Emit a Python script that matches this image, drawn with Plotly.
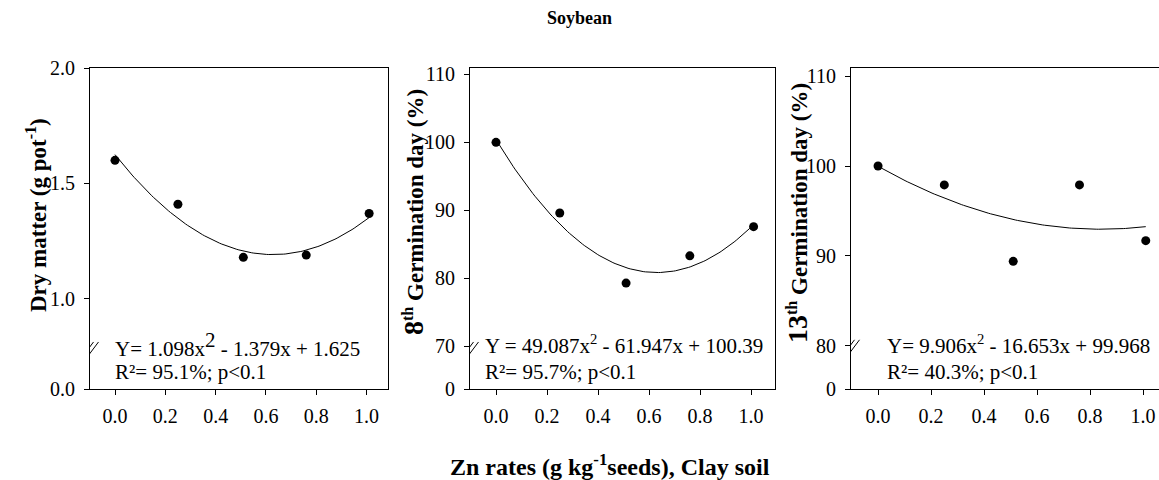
import numpy as np
import plotly.graph_objects as go

# ---------------- data ----------------
zn_rates = [0.0, 0.25, 0.51, 0.76, 1.01]
dry_matter = [1.60, 1.41, 1.18, 1.19, 1.37]
germ_8th = [100.0, 89.6, 79.3, 83.3, 87.6]
germ_13th = [100.0, 97.9, 89.4, 97.9, 91.7]

fit_dry = [1.098, -1.379, 1.625]
fit_8th = [49.087, -61.947, 100.39]
fit_13th = [9.906, -16.653, 99.968]

x_tickvals = [0.0, 0.2, 0.4, 0.6, 0.8, 1.0]
x_ticktext = ["0.0", "0.2", "0.4", "0.6", "0.8", "1.0"]

eq_dry = ["Y= 1.098x<sup><span style='font-size:21px'>2</span></sup> - 1.379x + 1.625", "R²= 95.1%; p<0.1"]
eq_8th = ["Y = 49.087x<sup>2</sup> - 61.947x + 100.39", "R²= 95.7%; p<0.1"]
eq_13th = ["Y= 9.906x<sup>2</sup> - 16.653x + 99.968", "R²= 40.3%; p<0.1"]

# broken axis: bottom of the axis shows the "0" label
y1_ticktext = ["0.0", "1.0", "1.5", "2.0"]
y2_ticktext = ["0", "70", "80", "90", "100", "110"]
y3_ticktext = ["0", "80", "90", "100", "110"]

# ---------------- layout helpers ----------------
W, H = 1159, 480
FONT = "Liberation Serif, Times New Roman, serif"

def px_x(p):
    return p / W

def px_y(p):
    return 1 - p / H

panels = [
    dict(y=dry_matter, fit=fit_dry, eq=eq_dry,
         xdom=[90, 388], xr=[-0.0994, 1.085],
         yr=[0.61, 2.0], ytv=[0.61, 1.0, 1.5, 2.0], ytt=y1_ticktext,
         brk=0.779, xmirror=True, ymirror=True, eqx=113),
    dict(y=germ_8th, fit=fit_8th, eq=eq_8th,
         xdom=[470, 775], xr=[-0.102, 1.094],
         yr=[63.72, 110.93], ytv=[63.72, 70, 80, 90, 100, 110], ytt=y2_ticktext,
         brk=69.46, xmirror=True, ymirror=True, eqx=483),
    dict(y=germ_13th, fit=fit_13th, eq=eq_13th,
         xdom=[851, 1159], xr=[-0.102, 1.06],
         yr=[75.2, 110.9], ytv=[75.2, 80, 90, 100, 110], ytt=y3_ticktext,
         brk=79.78, xmirror=True, ymirror=False, eqx=885),
]

fig = go.Figure()
shapes = []
annotations = []

for i, p in enumerate(panels, start=1):
    xa = "x" if i == 1 else f"x{i}"
    ya = "y" if i == 1 else f"y{i}"
    a, b, c = p["fit"]
    xs = np.linspace(min(zn_rates), max(zn_rates), 120)
    ys = a * xs ** 2 + b * xs + c
    fig.add_trace(go.Scatter(x=xs, y=ys, mode="lines",
                             line=dict(color="black", width=1),
                             xaxis=xa, yaxis=ya, showlegend=False, hoverinfo="skip"))
    fig.add_trace(go.Scatter(x=zn_rates, y=p["y"], mode="markers",
                             marker=dict(color="black", size=9),
                             xaxis=xa, yaxis=ya, showlegend=False))

    axis_common = dict(showline=True, linecolor="black", linewidth=1,
                       ticks="outside", ticklen=5, tickwidth=1, tickcolor="black",
                       showgrid=False, zeroline=False, automargin=False,
                       tickfont=dict(family=FONT, size=20, color="black"))
    xkey = "xaxis" if i == 1 else f"xaxis{i}"
    ykey = "yaxis" if i == 1 else f"yaxis{i}"
    fig.update_layout({
        xkey: dict(domain=[px_x(p["xdom"][0]), px_x(p["xdom"][1])],
                   range=p["xr"], anchor=ya,
                   tickvals=x_tickvals, ticktext=x_ticktext,
                   mirror=p["xmirror"], ticklabelstandoff=4, **axis_common),
        ykey: dict(domain=[px_y(389), px_y(68)], range=p["yr"], anchor=xa,
                   tickvals=p["ytv"], ticktext=p["ytt"],
                   mirror=p["ymirror"], ticklabelstandoff=5, **axis_common),
    })

    # break marks "//"
    for dx in (-2.5, 2.5):
        shapes.append(dict(type="line", xref=xa, yref=ya,
                           xsizemode="pixel", ysizemode="pixel",
                           xanchor=p["xr"][0], yanchor=p["brk"],
                           x0=-6 + dx, x1=6 + dx, y0=-8, y1=8,
                           line=dict(color="black", width=1)))

    # equation text
    annotations.append(dict(xref="paper", yref="paper", x=px_x(p["eqx"]), y=px_y(344),
                            xanchor="left", yanchor="middle", showarrow=False,
                            text=p["eq"][0], font=dict(family=FONT, size=21, color="black")))
    annotations.append(dict(xref="paper", yref="paper", x=px_x(p["eqx"]), y=px_y(372),
                            xanchor="left", yanchor="middle", showarrow=False,
                            text=p["eq"][1], font=dict(family=FONT, size=21, color="black")))

# y-axis titles
ytitles = [
    ("<b>Dry matter (g pot<sup>-1</sup>)</b>", 36, 215),
    ("<b><span style='font-size:28px'>8</span><sup>th</sup> Germination day (%)</b>", 413, 212),
    ("<b><span style='font-size:28px'>13</span><sup>th</sup> Germination day (%)</b>", 797, 213),
]
for txt, xp, yp in ytitles:
    annotations.append(dict(xref="paper", yref="paper", x=px_x(xp), y=px_y(yp),
                            xanchor="center", yanchor="middle", showarrow=False,
                            textangle=-90, text=txt,
                            font=dict(family=FONT, size=23, color="black")))

# title and x title
annotations.append(dict(xref="paper", yref="paper", x=px_x(579), y=px_y(18),
                        xanchor="center", yanchor="middle", showarrow=False,
                        text="<b>Soybean</b>", font=dict(family=FONT, size=18, color="black")))
annotations.append(dict(xref="paper", yref="paper", x=px_x(610), y=px_y(465),
                        xanchor="center", yanchor="middle", showarrow=False,
                        text="<b>Zn rates (g kg<sup>-1</sup>seeds), Clay soil</b>",
                        font=dict(family=FONT, size=24, color="black")))

fig.update_layout(template="none", width=W, height=H,
                  margin=dict(l=0, r=0, t=0, b=0, pad=0, autoexpand=False),
                  font=dict(family=FONT, color="black"),
                  paper_bgcolor="white", plot_bgcolor="white",
                  shapes=shapes, annotations=annotations, showlegend=False)

fig.write_html("out.html")
